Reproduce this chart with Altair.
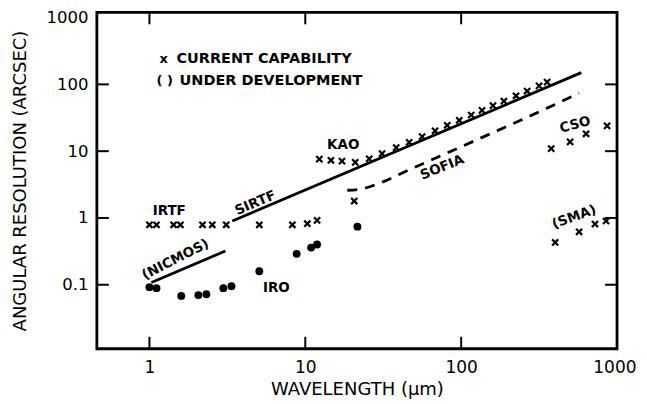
import altair as alt
import pandas as pd

# ---- data ----
# current capability (x markers)
cur_wl = [1.0, 1.11, 1.43, 1.58, 2.19, 2.53, 3.11, 5.07, 8.26, 10.3, 11.9,
          12.3, 14.6, 17.2, 20.9, 20.6,
          25.7, 31.1, 38.3, 46.4, 56.2, 68.0, 81.4, 97.2, 116, 136, 160, 188, 225, 265, 316, 356,
          378, 500, 633, 863]
cur_res = [0.79, 0.79, 0.79, 0.79, 0.79, 0.79, 0.79, 0.79, 0.79, 0.82, 0.92,
           7.6, 7.3, 7.1, 6.8, 1.79,
           7.7, 9.2, 11.3, 13.6, 16.5, 20.2, 24.4, 29.0, 34.8, 40.8, 48.0, 56.0, 67.5, 79.5, 95.0, 108,
           10.9, 13.8, 18.2, 23.9]

# under development (SMA) x markers
dev_wl = [401, 571, 722, 850]
dev_res = [0.43, 0.62, 0.81, 0.90]

# filled dots (IRO)
dot_wl = [1.0, 1.11, 1.6, 2.06, 2.32, 2.98, 3.36, 5.07, 8.8, 10.9, 11.9, 21.6]
dot_res = [0.092, 0.089, 0.068, 0.070, 0.072, 0.089, 0.095, 0.159, 0.29, 0.36, 0.40, 0.74]

# lines
sirtf_wl = [3.4, 590]
sirtf_res = [0.90, 150]
nicmos_wl = [1.03, 3.07]
nicmos_res = [0.108, 0.32]
sofia_wl = [18.6, 22.2, 26.5, 32.1, 40.0, 97.0, 235, 571]
sofia_res = [2.6, 2.69, 2.98, 3.53, 4.49, 11.3, 28.3, 73.6]

# axis ticks
x_ticks = [1, 10, 100, 1000]
y_ticks = [0.1, 1, 10, 100, 1000]
x_inner_ticks = [1, 10, 100]
y_inner_ticks = [0.1, 1, 10, 100]

# annotation labels
lab_text = ["IRTF", "SIRTF", "(NICMOS)", "IRO", "KAO", "SOFIA", "CSO", "(SMA)"]
lab_wl = [1.34, 4.78, 1.47, 6.52, 17.5, 75.5, 539, 531]
lab_res = [1.27, 1.67, 0.238, 0.089, 12.5, 5.7, 24.8, 1.03]
lab_angle = [0, 337, 333, 0, 0, 338, 345, 340]

leg_sym = ["x", "( )"]
leg_text = ["CURRENT CAPABILITY", "UNDER DEVELOPMENT"]
leg_sym_wl = [1.16, 1.11]
leg_wl = [1.49, 1.56]
leg_res = [243, 111]

W, H = 521, 337
FONT = "DejaVu Sans"

xs = alt.Scale(type="log", domain=[0.46, 1000], nice=False)
ys = alt.Scale(type="log", domain=[0.011, 1200], nice=False)

xaxis = alt.Axis(values=x_ticks, format="~g", domain=False, ticks=False, tickSize=0, grid=False,
                 labelPadding=11, labelFontSize=17, labelFont=FONT, labelColor="black",
                 title="WAVELENGTH (μm)", titleFont=FONT, titleFontSize=18, titleFontWeight="normal",
                 titleColor="black", titleBaseline="alphabetic", titleX=W / 2, titleY=46,
                 labelFlush=True, labelFlushOffset=19, labelOverlap=False)
yaxis = alt.Axis(values=y_ticks, format="~g", domain=False, ticks=False, tickSize=0, grid=False,
                 labelPadding=9, labelFontSize=16.5, labelFont=FONT, labelColor="black",
                 title="ANGULAR RESOLUTION (ARCSEC)", titleFont=FONT, titleFontSize=18,
                 titleFontWeight="normal", titleColor="black", titleX=-76, titleY=H / 2,
                 titleAngle=270, titleBaseline="middle", titleAlign="center",
                 labelFlush=False, labelOverlap=False)

cur_df = pd.DataFrame({"wl": cur_wl, "res": cur_res})
dev_df = pd.DataFrame({"wl": dev_wl, "res": dev_res})
dot_df = pd.DataFrame({"wl": dot_wl, "res": dot_res})

XPATH = "M-1,-1L1,1M-1,1L1,-1"

base_pts = alt.Chart(cur_df).mark_point(shape=XPATH, size=38, strokeWidth=2.2, color="black", opacity=1).encode(
    x=alt.X("wl:Q", scale=xs, axis=xaxis),
    y=alt.Y("res:Q", scale=ys, axis=yaxis),
)
dev_pts = alt.Chart(dev_df).mark_point(shape=XPATH, size=38, strokeWidth=2.2, color="black", opacity=1).encode(
    x=alt.X("wl:Q", scale=xs), y=alt.Y("res:Q", scale=ys))
dots = alt.Chart(dot_df).mark_circle(size=62, color="black", opacity=1).encode(
    x=alt.X("wl:Q", scale=xs), y=alt.Y("res:Q", scale=ys))

sirtf = alt.Chart(pd.DataFrame({"wl": sirtf_wl, "res": sirtf_res})).mark_line(
    color="black", strokeWidth=2.8).encode(x=alt.X("wl:Q", scale=xs), y=alt.Y("res:Q", scale=ys))
nicmos = alt.Chart(pd.DataFrame({"wl": nicmos_wl, "res": nicmos_res})).mark_line(
    color="black", strokeWidth=2.8).encode(x=alt.X("wl:Q", scale=xs), y=alt.Y("res:Q", scale=ys))
sofia = alt.Chart(pd.DataFrame({"wl": sofia_wl, "res": sofia_res, "o": list(range(len(sofia_wl)))})).mark_line(
    color="black", strokeWidth=2.8, strokeDash=[10, 8], interpolate="monotone").encode(
    x=alt.X("wl:Q", scale=xs), y=alt.Y("res:Q", scale=ys), order="o:O")

labels = alt.Chart(pd.DataFrame({"t": lab_text, "wl": lab_wl, "res": lab_res, "a": lab_angle})).mark_text(
    font=FONT, fontSize=13.5, fontWeight="bold", color="black", align="center", baseline="middle").encode(
    x=alt.X("wl:Q", scale=xs), y=alt.Y("res:Q", scale=ys), text="t:N", angle=alt.Angle("a:Q", scale=None))

legend_sym = alt.Chart(pd.DataFrame({"t": leg_sym, "wl": leg_sym_wl, "res": leg_res})).mark_text(
    font=FONT, fontSize=13, fontWeight="bold", color="black", align="left", baseline="middle").encode(
    x=alt.X("wl:Q", scale=xs), y=alt.Y("res:Q", scale=ys), text="t:N")
legend = alt.Chart(pd.DataFrame({"t": leg_text, "wl": leg_wl, "res": leg_res})).mark_text(
    font=FONT, fontSize=14.5, fontWeight="bold", color="black", align="left", baseline="middle").encode(
    x=alt.X("wl:Q", scale=xs), y=alt.Y("res:Q", scale=ys), text="t:N")

TL = 12
bx = pd.DataFrame({"v": x_inner_ticks})
by = pd.DataFrame({"v": y_inner_ticks})
tick_bottom = alt.Chart(bx).mark_rule(color="black", strokeWidth=2).encode(
    x=alt.X("v:Q", scale=xs), y=alt.value(H), y2=alt.value(H - TL))
tick_top = alt.Chart(bx).mark_rule(color="black", strokeWidth=2).encode(
    x=alt.X("v:Q", scale=xs), y=alt.value(0), y2=alt.value(TL))
tick_left = alt.Chart(by).mark_rule(color="black", strokeWidth=2).encode(
    y=alt.Y("v:Q", scale=ys), x=alt.value(0), x2=alt.value(TL))
tick_right = alt.Chart(by).mark_rule(color="black", strokeWidth=2).encode(
    y=alt.Y("v:Q", scale=ys), x=alt.value(W), x2=alt.value(W - TL))

chart = alt.layer(
    base_pts, dev_pts, dots, sirtf, nicmos, sofia, labels, legend_sym, legend,
    tick_bottom, tick_top, tick_left, tick_right
).properties(
    width=W, height=H,
    autosize=alt.AutoSizeParams(type="none"),
    padding={"left": 89, "top": 4, "right": 22, "bottom": 50},
    background="white",
).configure_view(stroke="black", strokeWidth=2.8)

chart.save("out.html", embed_options={"renderer": "svg", "actions": False})
